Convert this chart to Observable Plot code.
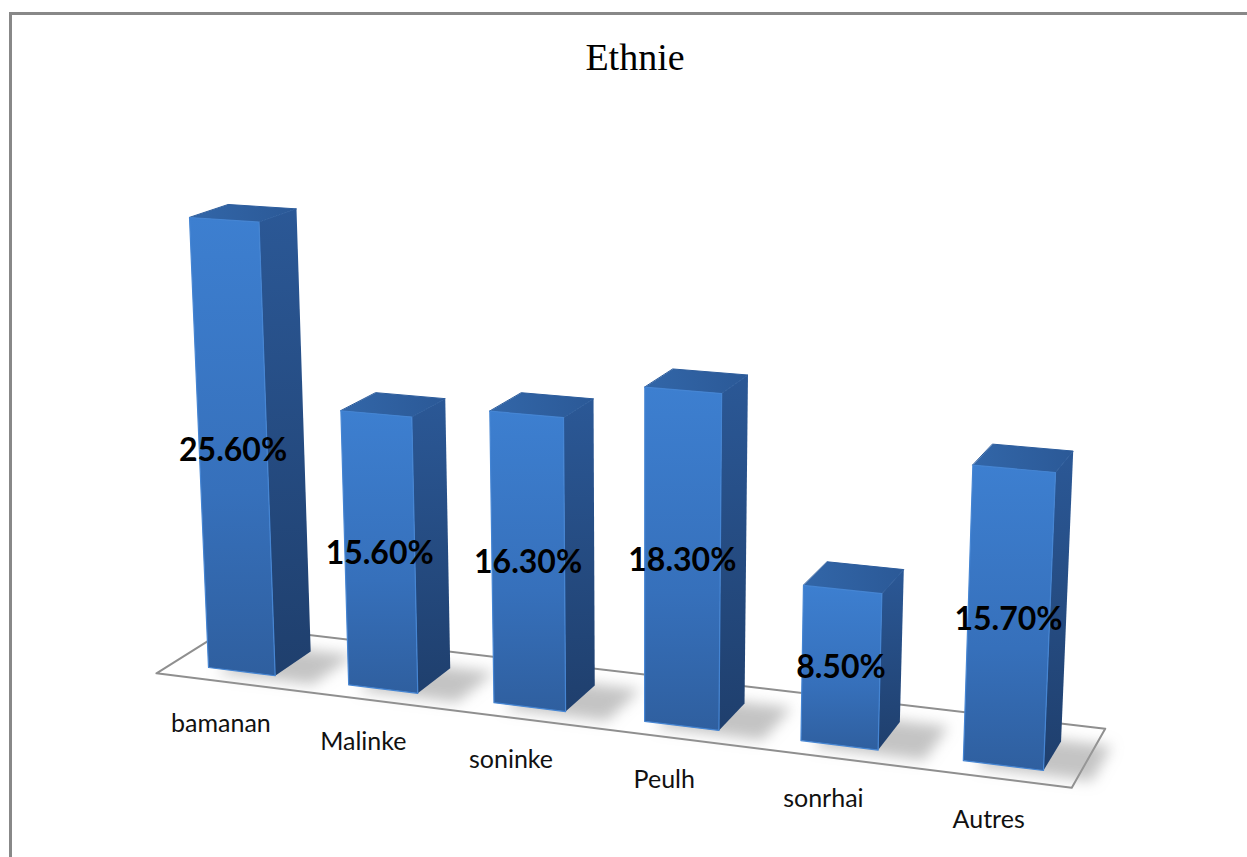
<!DOCTYPE html>
<html><head><meta charset="utf-8">
<script src="https://cdn.jsdelivr.net/npm/d3@7"></script>
<script src="https://cdn.jsdelivr.net/npm/@observablehq/plot@0.6"></script>
<style>
body{margin:0;background:#fff;}
#wrap{position:relative;width:1247px;height:857px;overflow:hidden;}
#frame{position:absolute;left:9px;top:12px;width:1300px;height:900px;border-top:3px solid #888;border-left:3px solid #888;}
#chart{position:absolute;left:0;top:0;}
#title{position:absolute;left:0;width:1270px;top:35px;text-align:center;font-family:"Liberation Serif",serif;font-size:38px;color:#000;}
</style></head><body>
<div id="wrap"><div id="frame"></div><div id="chart"></div><div id="title">Ethnie</div></div>
<script>
// ---- data ----
const categories = ["bamanan", "Malinke", "soninke", "Peulh", "sonrhai", "Autres"];
const values = [25.6, 15.6, 16.3, 18.3, 8.5, 15.7];
const valueLabels = ["25.60%", "15.60%", "16.30%", "18.30%", "8.50%", "15.70%"];

// ---- 3D perspective (layout calibration) ----
const W = 1247, H = 857;
const hw = 0.24;          // half bar width (category units)
const depth = 1;          // bar depth
const floorX = [-0.5, 5.45], floorZ = [-0.42, 1.6];
const calib = [
  [[-hw, 25.6], [189, 217]],
  [[-hw, 0], [208, 667]],
  [[5 + hw, 15.7], [1055, 472]],
  [[5 + hw, 0], [1043, 770]]
];
const VP = [1675, -278];  // depth vanishing point

function solveH(pairs) {
  const A = [], b = [];
  for (const [[x, y], [u, v]] of pairs) {
    A.push([x, y, 1, 0, 0, 0, -u * x, -u * y]); b.push(u);
    A.push([0, 0, 0, x, y, 1, -v * x, -v * y]); b.push(v);
  }
  const n = 8;
  for (let i = 0; i < n; i++) {
    let p = i;
    for (let r = i + 1; r < n; r++) if (Math.abs(A[r][i]) > Math.abs(A[p][i])) p = r;
    [A[i], A[p]] = [A[p], A[i]]; [b[i], b[p]] = [b[p], b[i]];
    for (let r = 0; r < n; r++) {
      if (r === i) continue;
      const f = A[r][i] / A[i][i];
      for (let c = i; c < n; c++) A[r][c] -= f * A[i][c];
      b[r] -= f * b[i];
    }
  }
  return b.map((v, i) => v / A[i][i]);
}
const hm = solveH(calib);
const homog = (X, V) => [hm[0] * X + hm[1] * V + hm[2], hm[3] * X + hm[4] * V + hm[5], hm[6] * X + hm[7] * V + 1];
const c0 = homog(-hw, 25.6)[2];
const lam = c0 * (228 - 189) / (VP[0] - 228);
function proj(X, V, Z) {
  const [a, b, c] = homog(X, V);
  const w = c + lam * Z;
  return [(a + lam * VP[0] * Z) / w, (b + lam * VP[1] * Z) / w];
}
function poly(id, pts) {
  return pts.map(([X, V, Z]) => { const [x, y] = proj(X, V, Z); return {id, x, y}; });
}

const frontFaces = [], sideFaces = [], topFaces = [], shadowShapes = [];
values.forEach((v, i) => {
  const L = i - hw, R = i + hw;
  frontFaces.push(...poly(i, [[L, 0, 0], [R, 0, 0], [R, v, 0], [L, v, 0]]));
  sideFaces.push(...poly(i, [[R, 0, 0], [R, 0, depth], [R, v, depth], [R, v, 0]]));
  topFaces.push(...poly(i, [[L, v, 0], [R, v, 0], [R, v, depth], [L, v, depth]]));
  shadowShapes.push(...poly(i, [[L + 0.1, 0, -0.14], [R + 0.3, 0, -0.14], [R + 0.3, 0, depth + 0.05], [L + 0.1, 0, depth + 0.05]]));
});
const floorShape = poly("floor", [[floorX[0], 0, floorZ[0]], [floorX[1], 0, floorZ[0]], [floorX[1], 0, floorZ[1]], [floorX[0], 0, floorZ[1]]]);

const valueText = values.map((v, i) => { const [x, y] = proj(i, v / 2, 0); return {x, y, t: valueLabels[i]}; });
const catText = categories.map((c, i) => { const [x, y] = proj(i - 0.05, 0, floorZ[0]); return {x, y, t: c}; });

const lineOpts = (fill, extra = {}) => ({x: "x", y: "y", z: "id", fill, stroke: "none", curve: "linear-closed", ...extra});

const svg = Plot.plot({
  width: W, height: H,
  marginTop: 0, marginRight: 0, marginBottom: 0, marginLeft: 0,
  style: {background: "transparent", overflow: "visible"},
  x: {type: "linear", domain: [0, W], range: [0, W], axis: null},
  y: {type: "linear", domain: [0, H], range: [0, H], axis: null},
  marks: [
    Plot.line(floorShape, lineOpts("#fff", {stroke: "#8f8f8f", strokeWidth: 2})),
    Plot.line(shadowShapes, lineOpts("#9c9c9c", {fillOpacity: 0.6})),
    Plot.line(sideFaces, lineOpts("url(#gSide)")),
    Plot.line(topFaces, lineOpts("url(#gTop)", {stroke: "#2c5c9c", strokeWidth: 1})),
    Plot.line(frontFaces, lineOpts("url(#gFront)", {stroke: "#4585d3", strokeWidth: 1.2})),
    Plot.text(valueText, {x: "x", y: "y", text: "t", fontSize: 32, fontWeight: "bold", fontFamily: "Lato, sans-serif", fill: "#000"}),
    Plot.text(catText, {x: "x", y: "y", text: "t", dy: 43, dx: 2, fontSize: 25, fontFamily: "Lato, sans-serif", fill: "#111"})
  ]
});

const ns = "http://www.w3.org/2000/svg";
const defs = document.createElementNS(ns, "defs");
defs.innerHTML = `
<linearGradient id="gFront" x1="0" y1="0" x2="0" y2="1">
  <stop offset="0" stop-color="#3d7fd0"/><stop offset="0.6" stop-color="#3670bb"/><stop offset="1" stop-color="#2f5f9f"/>
</linearGradient>
<linearGradient id="gSide" x1="0" y1="0" x2="0" y2="1">
  <stop offset="0" stop-color="#2b5896"/><stop offset="1" stop-color="#1f3f6d"/>
</linearGradient>
<linearGradient id="gTop" x1="0" y1="0" x2="1" y2="0">
  <stop offset="0" stop-color="#3266a8"/><stop offset="1" stop-color="#2b5997"/>
</linearGradient>
<filter id="blur" x="-50%" y="-50%" width="200%" height="200%"><feGaussianBlur stdDeviation="7"/></filter>`;
svg.insertBefore(defs, svg.firstChild);
const lineGroups = svg.querySelectorAll('g[aria-label="line"]');
if (lineGroups.length > 1) lineGroups[1].setAttribute("filter", "url(#blur)");
document.getElementById("chart").appendChild(svg);
</script>
</body></html>
